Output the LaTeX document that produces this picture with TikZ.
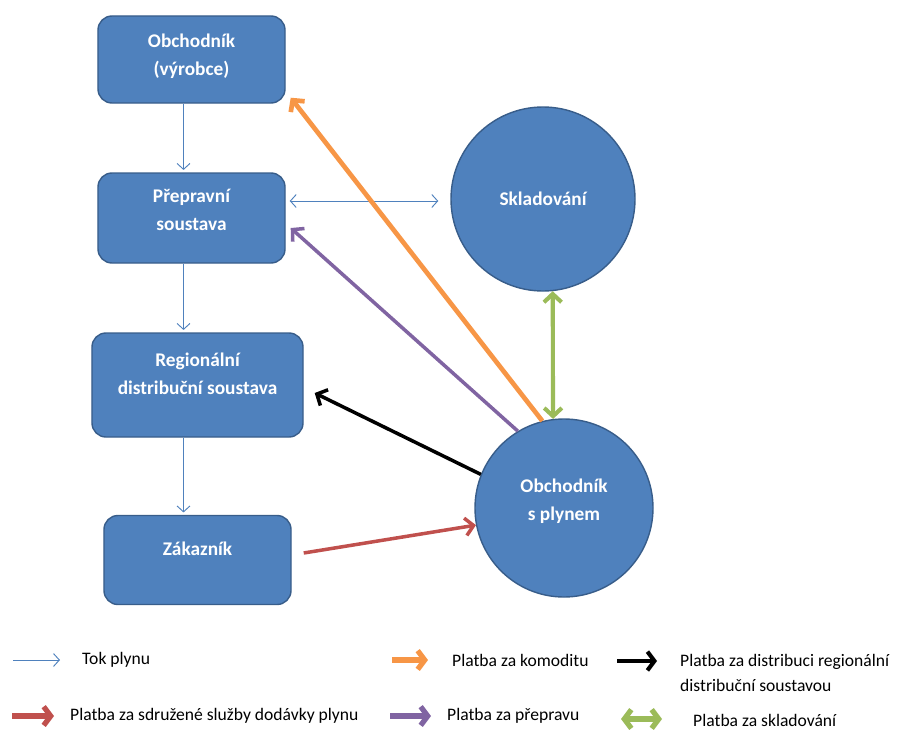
\documentclass[tikz,border=0pt]{standalone}
\usepackage{fontspec}
\setmainfont{Carlito}
\usetikzlibrary{arrows.meta,calc}
\definecolor{boxblue}{HTML}{4F81BD}
\definecolor{boxedge}{HTML}{385D8A}
\definecolor{payorange}{HTML}{F79646}
\definecolor{paypurple}{HTML}{8064A2}
\definecolor{payred}{HTML}{C0504D}
\definecolor{paygreen}{HTML}{9BBB59}
\def\lift#1#2{\raisebox{#1}[0pt][0pt]{\begin{tabular}{@{}c@{}}#2\end{tabular}}}
\tikzset{
	unit/.style={draw=boxedge, line width=1.2pt, fill=boxblue, rounded corners=0.42cm,
		text=white, font=\fontsize{16.5}{24}\selectfont\bfseries, inner sep=0pt},
	party/.style={draw=boxedge, line width=1.2pt, fill=boxblue, circle,
		text=white, font=\fontsize{16.5}{24}\selectfont\bfseries, inner sep=0pt},
	flow/.style={boxblue, line width=0.8pt, -{Straight Barb[length=5pt,width=11pt]}},
	pay/.style={line width=3pt, -{Straight Barb[length=7pt,width=15pt]}},
	keypay/.style={line width=4.5pt, -{Straight Barb[length=6pt,width=16pt]}},
	keytext/.style={anchor=west, font=\fontsize{15}{22}\selectfont, inner sep=0pt}
}

\begin{document}
\begin{tikzpicture}[x=0.03cm, y=-0.03cm]
			%%%%% START %%%%%
			\useasboundingbox (0, 0) rectangle (899, 729);
			
			\node[unit, minimum width=5.61cm, minimum height=2.61cm] (vyrobce) at (191.5, 59.5) {\lift{-1pt}{Obchodník\\(výrobce)}};
			\node[unit, minimum width=5.61cm, minimum height=2.7cm] (preprava) at (191.5, 218) {\lift{2pt}{Přepravní\\soustava}};
			\node[unit, minimum width=6.33cm, minimum height=3.12cm] (rds) at (197.5, 385) {\lift{4pt}{Regionální\\distribuční soustava}};
			\node[unit, minimum width=5.61cm, minimum height=2.67cm] (zakaznik) at (197.5, 560) {\lift{4pt}{Zákazník}};
			
			\node[party, minimum size=5.52cm] (sklad) at (543, 199) {Skladování};
			\node[party, minimum size=5.34cm] (obchodnik) at (564, 508) {\lift{2pt}{Obchodník\\s plynem}};
			
			% tok plynu
			\draw[flow, shorten >=2pt] ($(vyrobce.south)+(-8, 0)$) -- ($(preprava.north)+(-8, 0)$);
			\draw[flow, shorten >=2pt] ($(preprava.south)+(-8, 0)$) -- ($(rds.north)+(-14, 0)$);
			\draw[flow, shorten >=2pt] ($(rds.south)+(-14, 0)$) -- ($(zakaznik.north)+(-14, 0)$);
			\draw[flow, {Straight Barb[length=5pt,width=11pt]}-{Straight Barb[length=5pt,width=11pt]}] ($(preprava.east)+(4, -17)$) -- ($(sklad.west)+(-12, 2)$);
			
			% platby
			\draw[pay, payorange, line width=4pt] (obchodnik.104) -- ($(vyrobce.south east)+(5, -6)$);
			\draw[pay, paypurple] (obchodnik.121) -- ($(preprava.east)+(5, 10)$);
			\draw[pay, black] (obchodnik.158) -- ($(rds.east)+(11, 8)$);
			\draw[pay, payred] ($(zakaznik.east)+(12, -7)$) -- (obchodnik.191);
			\draw[pay, paygreen, line width=3.5pt, {Straight Barb[length=7pt,width=15pt]}-{Straight Barb[length=7pt,width=15pt]}] (sklad.276) -- (obchodnik.97);
			
			% legenda
			\coordinate (k1a) at (13, 660); \coordinate (k1b) at (60, 660);
			\coordinate (k2a) at (392, 660); \coordinate (k2b) at (428, 660);
			\coordinate (k3a) at (617, 661); \coordinate (k3b) at (657, 661);
			\coordinate (k4a) at (12, 716); \coordinate (k4b) at (54, 716);
			\coordinate (k5a) at (390, 716); \coordinate (k5b) at (431, 716);
			\coordinate (k6a) at (621, 719); \coordinate (k6b) at (662, 719);
			
			\draw[flow] (k1a) -- (k1b);
			\draw[keypay, payorange] (k2a) -- (k2b);
			\draw[keypay, black, line width=3.5pt] (k3a) -- (k3b);
			\draw[keypay, payred] (k4a) -- (k4b);
			\draw[keypay, paypurple] (k5a) -- (k5b);
			\draw[keypay, paygreen, {Straight Barb[length=6pt,width=16pt]}-{Straight Barb[length=6pt,width=16pt]}] (k6a) -- (k6b);
			
			\node[keytext] (t1) at (82, 660) {Tok plynu};
			\node[keytext] (t2) at (452, 660) {Platba za komoditu};
			\node[keytext, align=left] (t3) at (680, 673) {Platba za distribuci regionální\\distribuční soustavou};
			\node[keytext] (t4) at (70, 716) {Platba za sdružené služby dodávky plynu};
			\node[keytext] (t5) at (447, 716) {Platba za přepravu};
			\node[keytext] (t6) at (693, 720) {Platba za skladování};
			%%%%% END %%%%%
\end{tikzpicture}
\end{document}
